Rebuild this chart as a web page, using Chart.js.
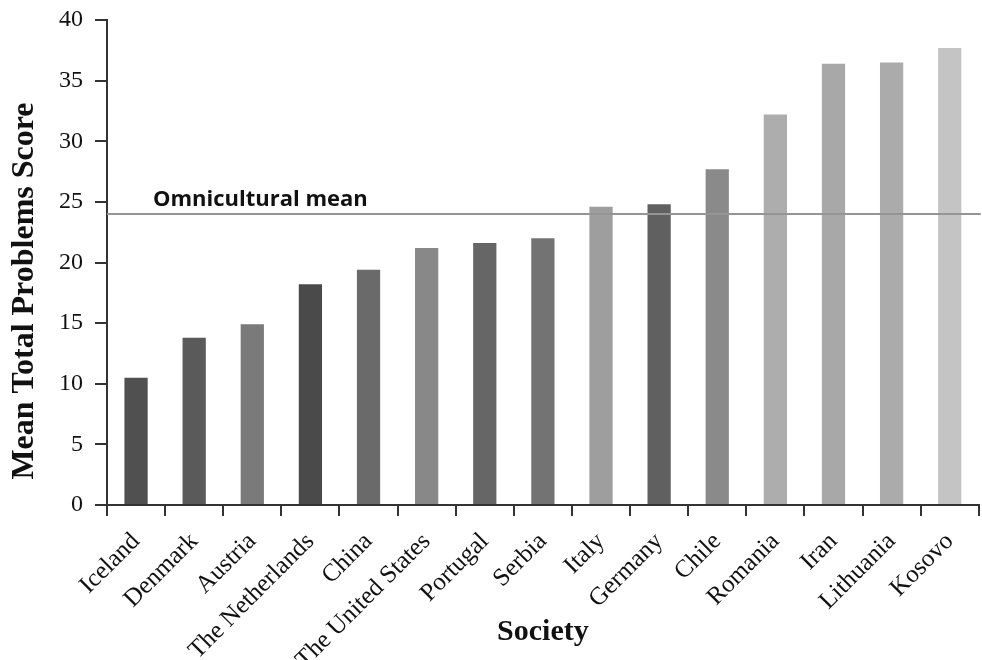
<!DOCTYPE html>
<html>
<head>
<meta charset="utf-8">
<script src="https://cdn.jsdelivr.net/npm/chart.js@4.4.1/dist/chart.umd.min.js"></script>
<style>
  html, body { margin: 0; padding: 0; background: #fff; }
  #wrap { width: 982px; height: 660px; }
</style>
</head>
<body>
<div id="wrap"><canvas id="chart" width="982" height="660"></canvas></div>
<script>
// values
const societies = ["Iceland", "Denmark", "Austria", "The Netherlands", "China", "The United States",
    "Portugal", "Serbia", "Italy", "Germany", "Chile", "Romania", "Iran", "Lithuania", "Kosovo"];
const scores = [10.5, 13.8, 14.9, 18.2, 19.4, 21.2, 21.6, 22.0, 24.6, 24.8, 27.7, 32.2, 36.4, 36.5, 37.7];
const barGreys = ["#505050", "#5a5a5a", "#7a7a7a", "#4a4a4a", "#6a6a6a", "#888888", "#666666", "#737373",
    "#9e9e9e", "#606060", "#8a8a8a", "#adadad", "#a8a8a8", "#ababab", "#c4c4c4"];
const omniculturalMean = 24.0;
const meanLabel = "Omnicultural mean";
const yTitle = "Mean Total Problems Score";

const axisColor = "#333333";
const serif = "'Liberation Serif', 'Times New Roman', serif";

// mean line, its label, and the y title (drawn off-centre like the original)
const meanLinePlugin = {
    id: "meanLine",
    afterDatasetsDraw(chart) {
        const { ctx, chartArea, scales } = chart;
        const y = scales.y.getPixelForValue(omniculturalMean);
        ctx.save();
        ctx.strokeStyle = "#959595";
        ctx.lineWidth = 2;
        ctx.beginPath();
        ctx.moveTo(chartArea.left, y);
        ctx.lineTo(chartArea.right + 2, y);
        ctx.stroke();
        ctx.fillStyle = "#111";
        ctx.font = "bold 22px 'Open Sans', 'DejaVu Sans', sans-serif";
        ctx.textBaseline = "alphabetic";
        ctx.fillText(meanLabel, chartArea.left + 46, y - 8);

        ctx.translate(25, 291);
        ctx.rotate(-Math.PI / 2);
        ctx.textAlign = "center";
        ctx.textBaseline = "middle";
        ctx.font = "bold 32px " + serif;
        ctx.fillText(yTitle, 0, 0);
        ctx.restore();
    }
};

new Chart(document.getElementById("chart"), {
    type: "bar",
    data: {
        labels: societies,
        datasets: [{
            label: yTitle,
            data: scores,
            backgroundColor: barGreys,
            barPercentage: 0.4,
            categoryPercentage: 1.0,
        }],
    },
    options: {
        responsive: false,
        animation: false,
        devicePixelRatio: 1,
        layout: { padding: { top: 20, right: 2, bottom: 0, left: 0 } },
        plugins: { legend: { display: false }, tooltip: { enabled: false } },
        scales: {
            x: {
                afterFit: (scale) => { scale.height = 155; },
                grid: { offset: true, drawOnChartArea: false, color: axisColor, lineWidth: 2, tickLength: 11 },
                border: { color: axisColor, width: 2 },
                ticks: {
                    color: "#111",
                    font: { family: serif, size: 25 },
                    minRotation: 45,
                    maxRotation: 45,
                    autoSkip: false,
                    padding: 11,
                },
                title: {
                    display: true,
                    text: "Society",
                    color: "#111",
                    font: { family: serif, size: 30, weight: "bold" },
                    padding: { top: 0, bottom: 10 },
                },
            },
            y: {
                min: 0,
                max: 40,
                afterFit: (scale) => { scale.width = 107; scale.paddingTop = 0; scale.paddingBottom = 0; },
                ticks: {
                    stepSize: 5,
                    color: "#111",
                    font: { family: serif, size: 24 },
                    padding: 12,
                },
                grid: { drawOnChartArea: false, color: axisColor, lineWidth: 2, tickLength: 12 },
                border: { color: axisColor, width: 2 },
            },
        },
    },
    plugins: [meanLinePlugin],
});
</script>
</body>
</html>
